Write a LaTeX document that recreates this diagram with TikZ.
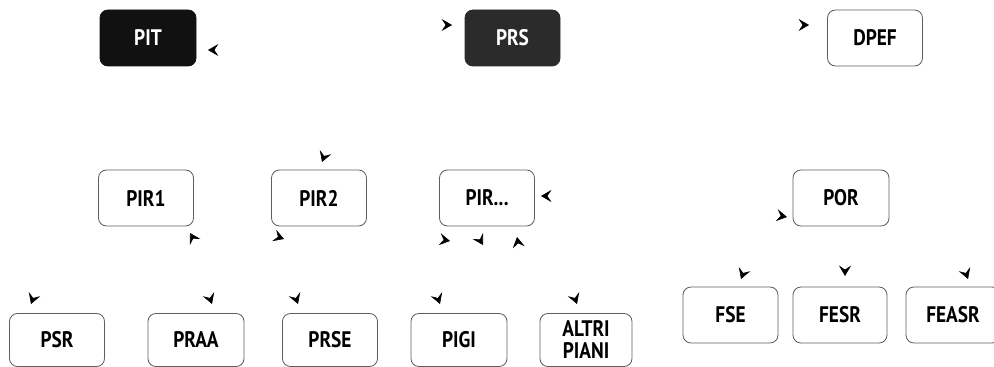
\documentclass[tikz,border=0pt]{standalone}
\usepackage{fontspec}
\setmainfont[FakeStretch=0.86]{PT Sans}
\usetikzlibrary{arrows.meta, positioning}
\definecolor{boxLine}{HTML}{5E5E5E}
\definecolor{boxBlack}{HTML}{111111}
\definecolor{boxSmoke}{HTML}{2B2B2B}
\tikzset{
  planBox/.style={rectangle, rounded corners=2mm, draw=boxLine, line width=0.6pt,
                  fill=white, align=center, inner sep=0pt,
                  font=\fontsize{16}{15.6}\selectfont\bfseries,
                  minimum width=23.75mm, minimum height=14mm},
  planLow/.style={planBox, minimum height=13.25mm},
  planBlack/.style={planBox, draw=boxBlack, fill=boxBlack, text=white},
  planSmoke/.style={planBox, draw=boxSmoke, fill=boxSmoke, text=white},
  tipOnly/.style={-{Stealth[length=2.6mm, width=3mm, inset=1mm]}, line width=0.4pt},
}
\begin{document}
\begin{tikzpicture}[x=0.25mm, y=-0.25mm]
    \useasboundingbox (0,0) rectangle (994,367);
    \clip (0,0) rectangle (994,367);
    % top row
    \node[planBlack, minimum width=24mm] (pit) at (148,38) {PIT};
    \node[planSmoke] (prs) at (512.5,38) {PRS};
    \node[planBox] (dpef) at (875,38) {DPEF};
    % middle row
    \node[planBox] (pir1) at (146,198) {PIR1};
    \node[planBox] (pir2) at (319,198) {PIR2};
    \node[planBox] (pir3) at (487,198) {PIR...};
    \node[planBox, minimum width=24mm] (por) at (841,198) {POR};
    % bottom row
    \node[planLow] (psr) at (57,340) {PSR};
    \node[planLow, minimum width=24mm] (praa) at (196,340) {PRAA};
    \node[planLow] (prse) at (330,340) {PRSE};
    \node[planLow, minimum width=24mm] (pigi) at (459,340) {PIGI};
    \node[planLow, minimum width=23mm] (altri) at (586,340) {ALTRI\\PIANI};
    \node[planBox] (fse) at (730.5,315) {FSE};
    \node[planBox, minimum width=23.5mm] (fesr) at (840,315) {FESR};
    \node[planBox, minimum width=23.5mm] (feasr) at (953,315) {FEASR};
    % arrow heads left by the scan
    \coordinate (t1) at (208,50);   \coordinate (t2) at (452,25);
    \coordinate (t3) at (809,25);   \coordinate (t4) at (322,162);
    \coordinate (t5) at (541,196);  \coordinate (t6) at (190,233);
    \coordinate (t7) at (284,239);  \coordinate (t8) at (450,241);
    \coordinate (t9) at (483,245);  \coordinate (t10) at (517,237);
    \coordinate (t11) at (787,217); \coordinate (t12) at (31,304);
    \coordinate (t13) at (212,304); \coordinate (t14) at (298,304);
    \coordinate (t15) at (440,304); \coordinate (t16) at (577,304);
    \coordinate (t17) at (741,279); \coordinate (t18) at (845,276);
    \coordinate (t19) at (968,279);
    \foreach \t/\dx/\dy in {t1/1/0, t2/-1/0, t3/-1/0, t4/0.34/-0.94, t5/1/0,
        t6/0.5/0.87, t7/-0.94/-0.34, t8/-0.98/-0.17, t9/-0.5/-0.87, t10/0.17/0.98,
        t11/-0.98/-0.17, t12/0.34/-0.94, t13/-0.34/-0.94, t14/-0.34/-0.94,
        t15/-0.34/-0.94, t16/-0.34/-0.94, t17/0.34/-0.94, t18/0/-1, t19/-0.34/-0.94}
      \draw[tipOnly] ([shift={(\dx,\dy)}]\t) -- (\t);
  \end{tikzpicture}
\end{document}
